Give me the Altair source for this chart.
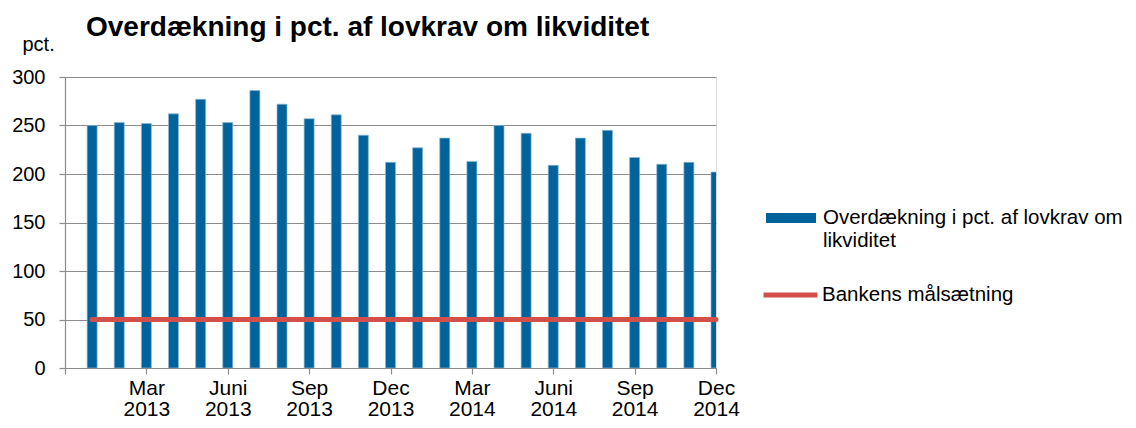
import json
import altair as alt
import pandas as pd

# ---- data ----
months = [
    "Jan 2013", "Feb 2013", "Mar 2013", "Apr 2013", "Maj 2013", "Juni 2013",
    "Jul 2013", "Aug 2013", "Sep 2013", "Okt 2013", "Nov 2013", "Dec 2013",
    "Jan 2014", "Feb 2014", "Mar 2014", "Apr 2014", "Maj 2014", "Juni 2014",
    "Jul 2014", "Aug 2014", "Sep 2014", "Okt 2014", "Nov 2014", "Dec 2014",
]
overdaekning = [250, 253, 252, 262, 277, 253, 286, 272, 257, 261, 240, 212,
                227, 237, 213, 250, 242, 209, 237, 245, 217, 210, 212, 202]
maalsaetning = [50, 50, 50, 50, 50, 50, 50, 50, 50, 50, 50, 50,
                50, 50, 50, 50, 50, 50, 50, 50, 50, 50, 50, 50]

serie_bar = "Overdækning i pct. af lovkrav om likviditet"
serie_line = "Bankens målsætning"
bar_legend_lines = ["Overdækning i pct. af lovkrav om", "likviditet"]

tick_values = [0, 3, 6, 9, 12, 15, 18, 21, 24]
tick_labels = ["", "Mar|2013", "Juni|2013", "Sep|2013", "Dec|2013",
               "Mar|2014", "Juni|2014", "Sep|2014", "Dec|2014"]
y_ticks = [0, 50, 100, 150, 200, 250, 300]

title_text = "Overdækning i pct. af lovkrav om likviditet"
y_title = "pct."

# ---- tables ----
pos = list(range(1, len(months) + 1))  # month order on the axis (Dec 2012 = 0)
df_bar = pd.DataFrame({"month": months, "pos": pos, "value": overdaekning, "serie": serie_bar})
df_line = pd.DataFrame({"month": months, "pos": pos, "value": maalsaetning, "serie2": serie_line})

FONT = "Liberation Sans"
GRAY = "#8C8C8C"
BLUE = "#00639B"
RED = "#D34F4A"

x_label_expr = "split(%s[indexof(%s, datum.value)], '|')" % (json.dumps(tick_labels), json.dumps(tick_values))

x_enc = alt.X(
    "pos:Q",
    scale=alt.Scale(domain=[0, 24], nice=False, zero=False, padding=0),
    axis=alt.Axis(
        values=tick_values, labelExpr=x_label_expr, title=None, grid=False,
        tickSize=6, tickColor=GRAY, tickWidth=1.2, domainColor=GRAY, domainWidth=1.2,
        labelFont=FONT, labelFontSize=21, labelColor="black", labelPadding=3,
        labelLineHeight=21, labelOverlap=False, labelAlign="center",
    ),
)
y_enc = alt.Y(
    "value:Q",
    scale=alt.Scale(domain=[0, 300], nice=False, padding=0),
    axis=alt.Axis(
        values=y_ticks, title=y_title, titleAngle=0, titleX=-43, titleY=-27,
        titleAlign="left", titleBaseline="alphabetic", titleFont=FONT,
        titleFontSize=20, titleFontWeight="normal", titleColor="black",
        labelFont=FONT, labelFontSize=20, labelColor="black", labelPadding=14,
        tickSize=6, tickColor=GRAY, tickWidth=1.2, domainColor=GRAY, domainWidth=1.2,
        grid=True, gridColor=GRAY, gridWidth=1.2,
    ),
)

bars = alt.Chart(df_bar).mark_bar(
    size=10, clip=True, stroke="#8DB9D6", strokeWidth=0.7
).encode(
    x=x_enc,
    y=y_enc,
    fill=alt.Fill(
        "serie:N",
        scale=alt.Scale(domain=[serie_bar], range=[BLUE]),
        legend=alt.Legend(
            title=None, orient="none", legendX=701, legendY=116, padding=0,
            symbolType="M-1,-0.2H1V0.2H-1Z", symbolSize=2500, symbolStrokeWidth=0,
            labelExpr=json.dumps(bar_legend_lines), labelFont=FONT, labelFontSize=20.5,
            labelColor="black", labelLimit=400, labelBaseline="middle", labelOffset=7,
        ),
    ),
)

line = alt.Chart(df_line).mark_line(strokeWidth=5, strokeCap="round").encode(
    x=alt.X("pos:Q"),
    y=alt.Y("value:Q"),
    stroke=alt.Stroke(
        "serie2:N",
        scale=alt.Scale(domain=[serie_line], range=[RED]),
        legend=alt.Legend(
            title=None, orient="none", legendX=696, legendY=188.5, padding=0,
            symbolType="stroke", symbolSize=2916, symbolStrokeWidth=5,
            labelFont=FONT, labelFontSize=20.5, labelColor="black", labelLimit=400,
            labelBaseline="middle", labelOffset=2,
        ),
    ),
)

chart = alt.layer(bars, line).resolve_legend(fill="independent", stroke="independent").properties(
    width=651,
    height=291,
    autosize=alt.AutoSizeParams(type="none"),
    padding={"left": 57, "top": 69, "right": 412, "bottom": 52},
    title=alt.TitleParams(
        title_text, anchor="start", frame="group", dx=21, dy=8, offset=0,
        font=FONT, fontSize=28, fontWeight="bold", color="black",
    ),
).configure_view(stroke=None).configure(background="white")

chart.save("out.html", embed_options={"renderer": "svg", "actions": False})
